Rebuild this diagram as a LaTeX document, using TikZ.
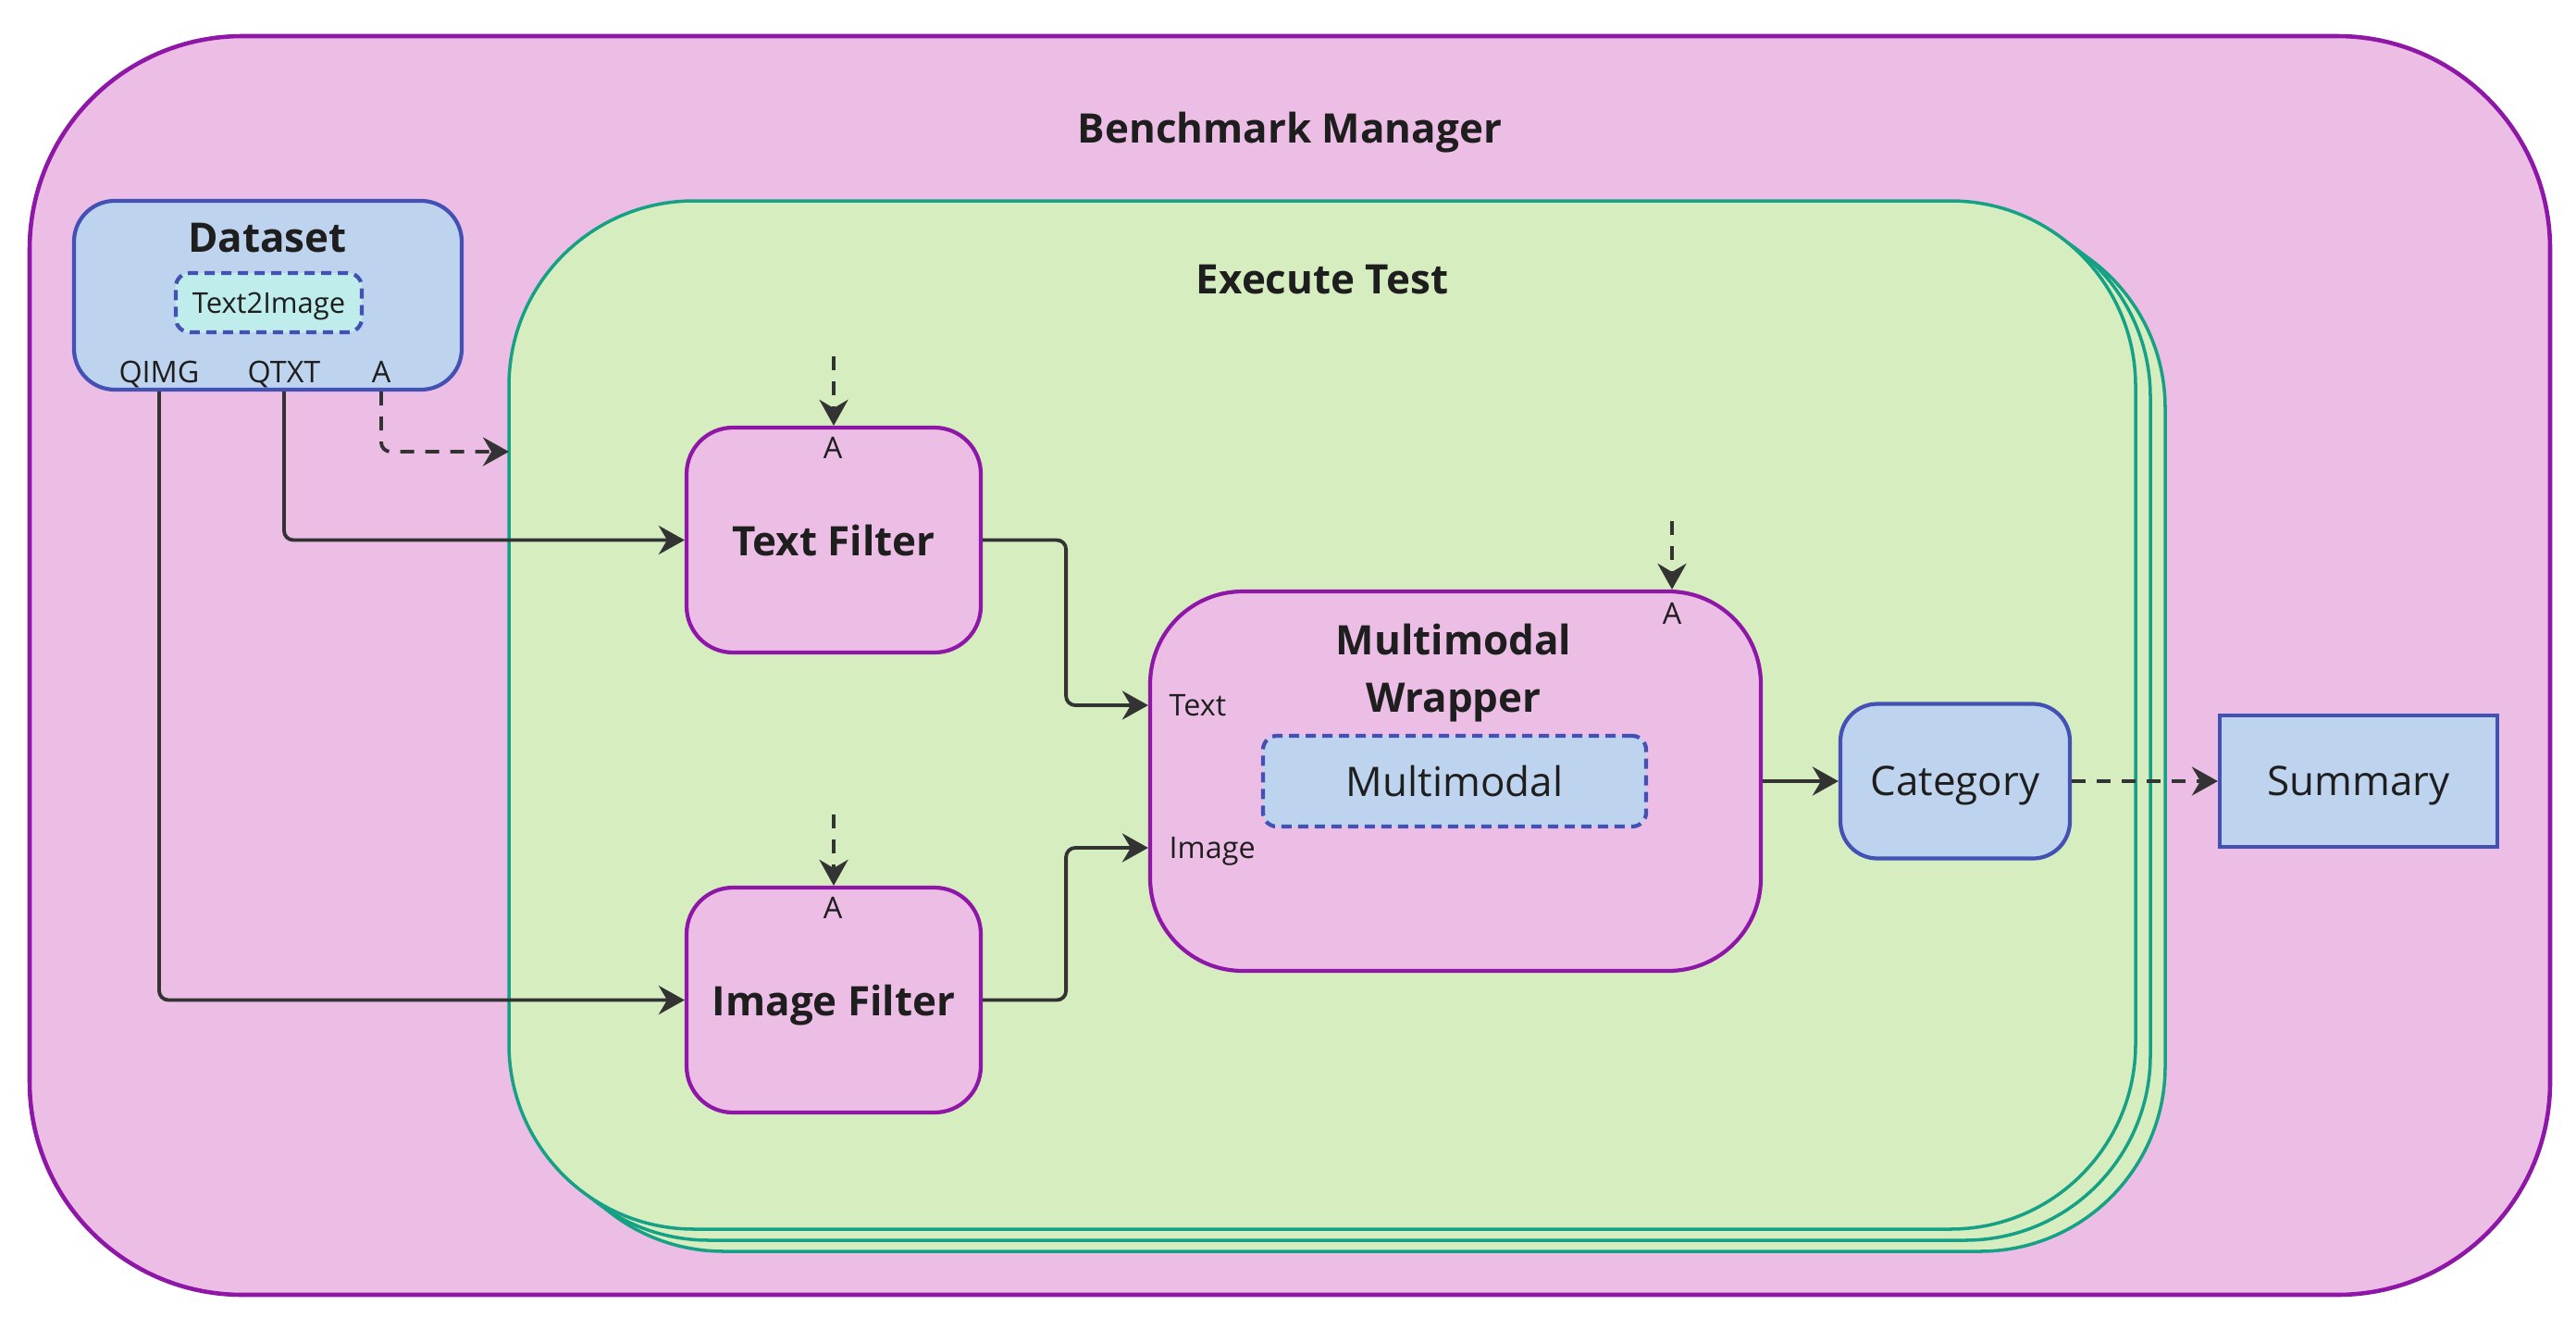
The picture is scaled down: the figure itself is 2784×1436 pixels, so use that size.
\documentclass[tikz,border=0pt]{standalone}
\usepackage{fontspec}
\setmainfont{Open Sans}
\usetikzlibrary{arrows.meta,calc}
\definecolor{mgPink}{HTML}{EDBEE5}
\definecolor{mgPurple}{HTML}{8F17A8}
\definecolor{mgGreen}{HTML}{D5EDBF}
\definecolor{mgTeal}{HTML}{16A085}
\definecolor{mgBlue}{HTML}{BED4EE}
\definecolor{mgNavy}{HTML}{4351B4}
\definecolor{mgCyan}{HTML}{BEEDEB}
\definecolor{mgInk}{HTML}{1E1E1E}
\definecolor{mgWire}{HTML}{333333}

\begin{document}
\begin{tikzpicture}[x=0.1mm, y=-0.1mm, >={Stealth[length=2.8mm,width=3.1mm]},
  big/.style={font=\fontsize{12.5}{17.6}\selectfont, text=mgInk, text depth=0pt},
  bold/.style={font=\fontsize{12.5}{17.6}\selectfont\bfseries, text=mgInk, align=center, text depth=0pt},
  small/.style={font=\fontsize{9.2}{11}\selectfont, text=mgInk, inner sep=0pt, text depth=0pt},
  box/.style={draw, line width=1.2pt, inner sep=0pt},
  pinkbox/.style={box, draw=mgPurple, fill=mgPink},
  bluebox/.style={box, draw=mgNavy, fill=mgBlue, big},
  stackbox/.style={box, line width=1pt, draw=mgTeal, fill=mgGreen, rounded corners=20mm,
    minimum width=175.8mm, minimum height=111.1mm},
  dashbox/.style={box, dash pattern=on 1.1mm off 0.7mm, draw=mgNavy, rounded corners=1.5mm},
  wire/.style={->, mgWire, line width=1.1pt, rounded corners=1mm},
  dashwire/.style={wire, dash pattern=on 1.5mm off 1.2mm}]

\useasboundingbox (0,0) rectangle (2784,1436);

\node[pinkbox, line width=1.3pt, rounded corners=23mm, minimum width=272.4mm, minimum height=136mm] (bm) at (1394,719) {};
\node[bold] (bmtitle) at (1394,138) {Benchmark Manager};

% dataset
\node[bluebox, rounded corners=4.4mm, minimum width=41.9mm, minimum height=20.4mm] (ds) at (289.5,319) {};
\node[bold] (dstitle) at (289,257) {Dataset};
\node[dashbox, fill=mgCyan, small, font=\fontsize{8.8}{11}\selectfont, minimum width=20.1mm, minimum height=6.4mm] (t2i) at (290.5,327) {Text2Image};
\node[small] (qimg) at (172,402) {QIMG};
\node[small] (qtxt) at (307,402) {QTXT};
\node[small] (dsA) at (412,402) {A};

% execute test
\foreach \s in {2,1}
  \node[stackbox, xshift=\s*1.6mm, yshift=-\s*1.2mm] (et\s) at (1429,772.5) {};
\node[stackbox] (et) at (1429,772.5) {};
\node[bold] (ettitle) at (1429,302) {Execute Test};
\coordinate (aIn) at (550,488);

\node[pinkbox, rounded corners=5mm, minimum width=31.8mm, minimum height=24.3mm, bold] (tf) at (901,583.5) {Text Filter};
\node[small] (tfA) at (900,484) {A};
\node[pinkbox, rounded corners=5mm, minimum width=31.8mm, minimum height=24.3mm, bold] (imf) at (901,1080.5) {Image Filter};
\node[small] (imfA) at (900,981) {A};

\node[pinkbox, rounded corners=10mm, minimum width=66mm, minimum height=41mm] (wr) at (1573,844) {};
\node[bold] (wrtitle) at (1571,722) {Multimodal\\Wrapper};
\node[small] (wrA) at (1807,663) {A};
\node[small, anchor=west] (wrtxt) at (1263,762) {Text};
\node[small, anchor=west] (wrimg) at (1263,916) {Image};
\node[dashbox, fill=mgBlue, big, minimum width=41.4mm, minimum height=9.8mm] (mm) at (1572,844) {Multimodal};

\node[bluebox, rounded corners=4mm, minimum width=24.8mm, minimum height=16.7mm] (cat) at (2113,844) {Category};
\node[bluebox, minimum width=30mm, minimum height=14.2mm] (sum) at (2549,844) {Summary};

\draw[wire] (qtxt |- ds.south) |- (tf.west);
\draw[wire] (qimg |- ds.south) |- (imf.west);
\draw[dashwire] (dsA |- ds.south) |- (aIn);

\draw[dashwire] ([yshift=7.5mm]tf.north) -- (tf.north);
\draw[dashwire] ([yshift=7.7mm]imf.north) -- (imf.north);
\draw[dashwire] ([yshift=7.4mm]wrA |- wr.north) -- (wrA |- wr.north);

\draw[wire] (tf.east) -- ++(9mm,0) |- (wr.west |- wrtxt);
\draw[wire] (imf.east) -- ++(9mm,0) |- (wr.west |- wrimg);
\draw[wire] (wr.east) -- (cat.west);
\draw[dashwire] (cat.east) -- (sum.west);

\end{tikzpicture}
\end{document}
